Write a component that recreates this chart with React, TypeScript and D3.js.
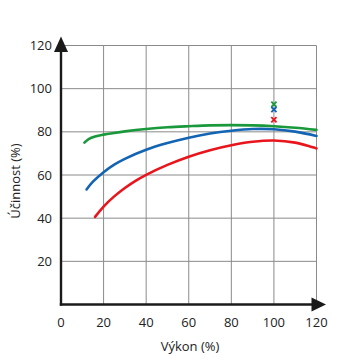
import * as d3 from 'd3';

const xTicks = [0, 20, 40, 60, 80, 100, 120];
const yTicks = [20, 40, 60, 80, 100, 120];

const greenX = [11, 13, 16, 20, 25, 30, 40, 50, 60, 70, 80, 90, 100, 110, 120];
const greenY = [75, 76.6, 77.8, 78.7, 79.5, 80.2, 81.3, 82.1, 82.6, 83.0, 83.1, 83.0, 82.6, 81.9, 80.9];
const blueX = [12, 15, 20, 25, 30, 40, 50, 60, 70, 80, 90, 100, 110, 120];
const blueY = [53.3, 56.9, 61.3, 64.8, 67.5, 71.7, 74.8, 77.3, 79.2, 80.5, 81.3, 81.2, 80.1, 78.1];
const redX = [16, 20, 25, 30, 35, 40, 50, 60, 70, 80, 90, 100, 110, 120];
const redY = [40.6, 45.4, 50.1, 54.0, 57.3, 60.1, 64.7, 68.5, 71.5, 73.8, 75.4, 76.0, 75.0, 72.3];

const markerX = [100, 100, 100];
const markerY = [92.8, 90.3, 85.6];
const colors = ['#19993b', '#1464b4', '#e8151c'];

const App = () => {
  const width = 359;
  const height = 363;
  const xScale = d3.scaleLinear().domain([0, 120]).range([61, 316.5]);
  const yScale = d3.scaleLinear().domain([0, 120]).range([304.5, 45.5]);

  const line = d3.line<[number, number]>()
    .x(d => xScale(d[0]))
    .y(d => yScale(d[1]))
    .curve(d3.curveCatmullRom);

  const series = [
    { xs: greenX, ys: greenY, color: colors[0] },
    { xs: blueX, ys: blueY, color: colors[1] },
    { xs: redX, ys: redY, color: colors[2] },
  ];

  const font = "'Open Sans', 'Liberation Sans', sans-serif";
  const x0 = xScale(0);
  const y0 = yScale(0);

  return (
    <div style={{ position: 'absolute', left: 0, top: 0 }}>
      <svg width={width} height={height} viewBox={`0 0 ${width} ${height}`} style={{ display: 'block', background: '#fff' }}>
        {/* grid */}
        <g stroke="#8a8a8a" strokeWidth={1}>
          {xTicks.filter(t => t > 0).map(t => (
            <line key={'gx' + t} x1={xScale(t)} x2={xScale(t)} y1={yScale(120)} y2={y0} />
          ))}
          {yTicks.map(t => (
            <line key={'gy' + t} x1={x0} x2={xScale(120)} y1={yScale(t)} y2={yScale(t)} />
          ))}
        </g>

        {/* curves */}
        {series.map((s, i) => (
          <path key={'s' + i}
            d={line(s.xs.map((x, j) => [x, s.ys[j]] as [number, number])) || ''}
            fill="none" stroke={s.color} strokeWidth={2.6} strokeLinecap="round" />
        ))}

        {/* markers */}
        {markerX.map((mx, i) => {
          const cx = xScale(mx);
          const cy = yScale(markerY[i]);
          const r = 2.6;
          return (
            <g key={'m' + i} stroke={colors[i]} strokeWidth={1.8}>
              <line x1={cx - r} y1={cy - r} x2={cx + r} y2={cy + r} />
              <line x1={cx - r} y1={cy + r} x2={cx + r} y2={cy - r} />
            </g>
          );
        })}

        {/* axes */}
        <g stroke="#1a1a1a" strokeWidth={2.4}>
          <line x1={x0} x2={x0} y1={y0 + 1.2} y2={50} />
          <line x1={x0 - 1.2} x2={313} y1={y0} y2={y0} />
        </g>
        <path d={`M${x0},36.5 L${x0 - 7},52 L${x0 + 7},52 Z`} fill="#1a1a1a" />
        <path d={`M326,${y0} L311.5,${y0 - 7} L311.5,${y0 + 7} Z`} fill="#1a1a1a" />

        {/* tick labels */}
        <g fontFamily={font} fontSize={13} fill="#222">
          {yTicks.map(t => (
            <text key={'ty' + t} x={52} y={yScale(t)} dy="0.35em" textAnchor="end">{t}</text>
          ))}
          {xTicks.map(t => (
            <text key={'tx' + t} x={xScale(t)} y={327} textAnchor="middle">{t}</text>
          ))}
          <text x={190} y={351} textAnchor="middle">Výkon (%)</text>
          <text transform={`translate(20,181) rotate(-90)`} textAnchor="middle">Účinnost (%)</text>
        </g>
      </svg>
    </div>
  );
};

export default App;
